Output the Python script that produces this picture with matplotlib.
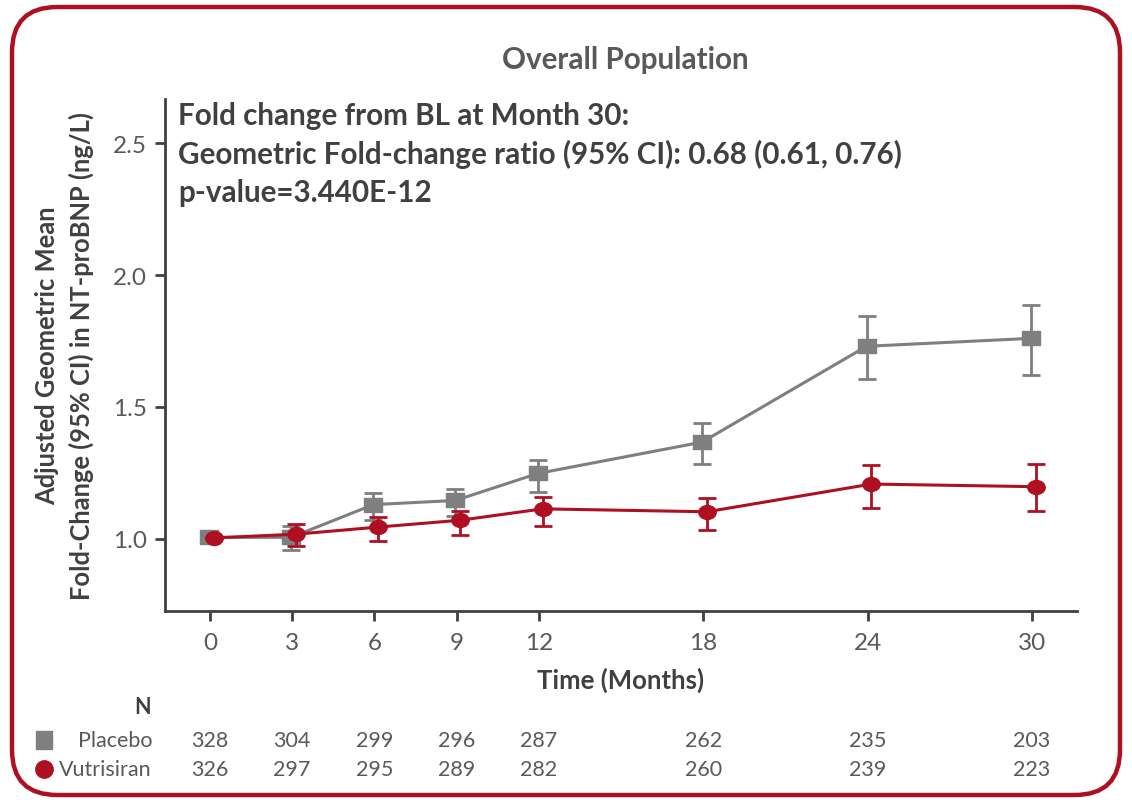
import matplotlib
matplotlib.use("Agg")
import matplotlib.pyplot as plt
from matplotlib.patches import FancyBboxPatch
from matplotlib.path import Path
import numpy as np

plt.rcParams['font.family'] = ['Lato', 'DejaVu Sans']

months = [0, 3, 6, 9, 12, 18, 24, 30]
placebo_mean = [1.006, 1.006, 1.130, 1.146, 1.248, 1.367, 1.730, 1.760]
placebo_lo = [1.006, 0.957, 1.071, 1.086, 1.177, 1.285, 1.606, 1.621]
placebo_hi = [1.006, 1.048, 1.175, 1.189, 1.299, 1.438, 1.844, 1.887]
vutri_mean = [1.004, 1.018, 1.045, 1.071, 1.114, 1.103, 1.208, 1.198]
vutri_lo = [1.004, 0.972, 0.994, 1.015, 1.050, 1.035, 1.116, 1.105]
vutri_hi = [1.004, 1.057, 1.085, 1.105, 1.158, 1.157, 1.280, 1.284]
n_placebo = [328, 304, 299, 296, 287, 262, 235, 203]
n_vutri = [326, 297, 295, 289, 282, 260, 239, 223]
yticks = [1.0, 1.5, 2.0, 2.5]

GRAY = '#7f7f7f'
RED = '#ae1022'
TXT = '#595959'
DARK = '#404040'

# slightly flattened marker shapes (as in the reference)
circ = Path.unit_circle()
ell_marker = Path(circ.vertices * np.array([1.0, 0.8]), circ.codes)
sq_marker = Path([(-0.5, -0.4), (0.5, -0.4), (0.5, 0.4), (-0.5, 0.4), (-0.5, -0.4)],
                 [Path.MOVETO, Path.LINETO, Path.LINETO, Path.LINETO, Path.CLOSEPOLY])
tall_sq = Path([(-0.45, -0.5), (0.45, -0.5), (0.45, 0.5), (-0.45, 0.5), (-0.45, -0.5)],
               [Path.MOVETO, Path.LINETO, Path.LINETO, Path.LINETO, Path.CLOSEPOLY])

W, H = 1132, 804
fig = plt.figure(figsize=(W/100, H/100), dpi=100)

border = FancyBboxPatch((12/W, 8/H), (W-24)/W, (H-16)/H,
                        boxstyle="round,pad=0,rounding_size=0.04",
                        transform=fig.transFigure, facecolor='none',
                        edgecolor=RED, linewidth=3.2, zorder=0,
                        mutation_aspect=W/H)
fig.patches.append(border)

ax = fig.add_axes([165/W, 1-612/H, (1077-165)/W, (612-100)/H])
ax.set_facecolor('none')
ax.set_zorder(2)

x = np.array(months, dtype=float)
dodge_p = -0.04
dodge_v = 0.14

pm = np.array(placebo_mean)
ax.errorbar(x+dodge_p, pm, yerr=[pm-np.array(placebo_lo), np.array(placebo_hi)-pm],
            color=GRAY, marker=sq_marker, markersize=12.5, linewidth=2.2,
            elinewidth=2.0, capsize=6.5, capthick=2.0, zorder=3)
vm = np.array(vutri_mean)
ax.errorbar(x+dodge_v, vm, yerr=[vm-np.array(vutri_lo), np.array(vutri_hi)-vm],
            color=RED, marker=ell_marker, markersize=12.5, linewidth=2.2,
            elinewidth=2.0, capsize=6.5, capthick=2.0, zorder=4)

ax.set_xlim(-1.64, 31.64)
ax.set_ylim(0.727, 2.667)
ax.set_xticks(months)
ax.set_xticklabels([str(m) for m in months])
ax.set_yticks(yticks)
ax.set_yticklabels([f"{v:.1f}" for v in yticks])
for s in ['top', 'right']:
    ax.spines[s].set_visible(False)
for s in ['left', 'bottom']:
    ax.spines[s].set_color('#404040')
    ax.spines[s].set_linewidth(2.0)
ax.tick_params(axis='both', colors='#404040', width=2.0, length=7,
               labelsize=17.5, labelcolor=TXT, pad=6)
ax.tick_params(axis='x', pad=8)

ax.set_xlabel('Time (Months)', fontsize=18.5, fontweight='bold', color=DARK, labelpad=10)
ax.set_ylabel('Adjusted Geometric Mean\nFold-Change (95% CI) in NT-proBNP (ng/L)',
              fontsize=18.4, fontweight='bold', color=DARK, labelpad=14, linespacing=1.45)

fig.text(625/W, 1-60/H, 'Overall Population', ha='center', va='center',
         fontsize=21.3, fontweight='bold', color=TXT)

ann = ['Fold change from BL at Month 30:',
       'Geometric Fold-change ratio (95% CI): 0.68 (0.61, 0.76)',
       'p-value=3.440E-12']
for i, line in enumerate(ann):
    fig.text(178/W, 1-(116+38.5*i)/H, line, ha='left', va='center',
             fontsize=21.3, fontweight='bold', color=DARK)

# N table
fig.text(143/W, 1-708/H, 'N', ha='center', va='center', fontsize=15.5,
         fontweight='bold', color=DARK)
rows = [('Placebo', n_placebo, 741, tall_sq, GRAY, 13),
        ('Vutrisiran', n_vutri, 770, 'o', RED, 12.5)]
for label, vals, yp, mk, col, ms in rows:
    yf = 1 - yp/H
    fig.text(152/W, yf, label, ha='right', va='center', fontsize=15.5, color=TXT)
    fig.lines.append(plt.Line2D([44/W], [yf], marker=mk, markersize=ms,
                                color=col, transform=fig.transFigure))
    for m, v in zip(months, vals):
        xd = ax.transData.transform((m, 0))[0]
        xf = fig.transFigure.inverted().transform((xd, 0))[0]
        fig.text(xf, yf, str(v), ha='center', va='center', fontsize=15.5, color=TXT)

fig.savefig('out.png', dpi=100)
